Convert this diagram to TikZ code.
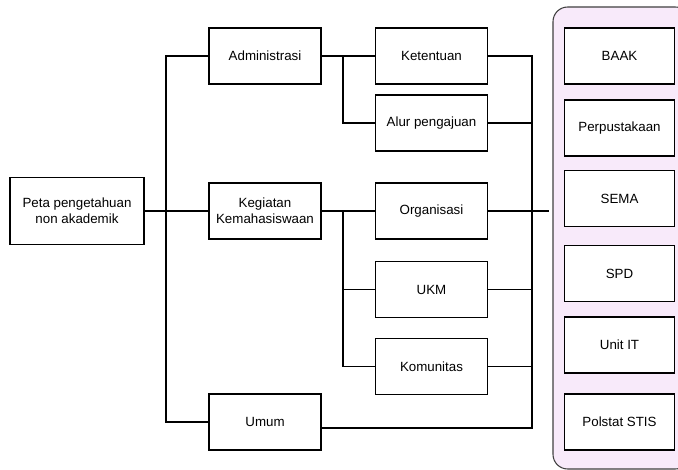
\documentclass[tikz,border=0pt]{standalone}
\usepackage{fontspec}
\setmainfont{Liberation Sans}
\usetikzlibrary{fit}

\definecolor{unitfill}{RGB}{248,234,250}
\tikzset{
	box/.style={draw,thick,fill=white,minimum width=84pt,minimum height=42pt,align=center,inner sep=1pt,font=\fontsize{10}{12}\selectfont},
	link/.style={draw=black,thick}
}

\begin{document}
\begin{tikzpicture}[x=0.75pt,y=-0.75pt]
	\useasboundingbox (0,0) rectangle (678,470);
	\draw [draw=black!75,thick,fill=unitfill,rounded corners=11pt] (553,7) rectangle (690,469);

	\node [box,minimum width=100.5pt,minimum height=50pt] (peta) at (77,211) {Peta pengetahuan\\non akademik};
	\node [box] (adm) at (265,56) {Administrasi};
	\node [box] (keg) at (265,211) {Kegiatan\\Kemahasiswaan};
	\node [box] (umum) at (265,422) {Umum};

	\node [box] (ket) at (431.5,56) {Ketentuan};
	\node [box] (alur) at (431.5,123) {Alur pengajuan};
	\node [box] (org) at (431.5,211) {Organisasi};
	\node [box] (ukm) at (431.5,289.5) {UKM};
	\node [box] (kom) at (431.5,366.5) {Komunitas};

	\node [box,minimum width=83pt] (baak) at (619.5,56) {BAAK};
	\node [box,minimum width=83pt] (perpus) at (619.5,128) {Perpustakaan};
	\node [box,minimum width=83pt] (sema) at (619.5,198.5) {SEMA};
	\node [box,minimum width=83pt] (spd) at (619.5,273.5) {SPD};
	\node [box,minimum width=83pt] (unitit) at (619.5,345) {Unit IT};
	\node [box,minimum width=83pt] (polstat) at (619.5,422) {Polstat STIS};

	\coordinate (t1) at (166,211);
	\coordinate (t2) at (343,123);
	\coordinate (t3) at (343,366.5);
	\coordinate (t4) at (532,428);
	\coordinate (t5) at (549,211);

	% level one
	\draw [link] (peta) -- (keg);
	\draw [link] (adm.west) -| (t1) |- (umum.west);
	% level two
	\draw [link] (adm) -- (ket);
	\draw [link] (adm.east) -| (t2) -- (alur.west);
	\draw [link] (keg) -- (org);
	\draw [link] (keg.east) -| (t3) -- (kom.west);
	\draw [link] (ukm.west) -- (ukm.west -| t3);
	% to the units
	\draw [link] (ket.east) -| (t4) -- (t4 -| umum.east);
	\draw [link] (alur.east) -- (alur.east -| t4);
	\draw [link] (ukm.east) -- (ukm.east -| t4);
	\draw [link] (kom.east) -- (kom.east -| t4);
	\draw [link] (org.east) -- (t5);
\end{tikzpicture}
\end{document}
